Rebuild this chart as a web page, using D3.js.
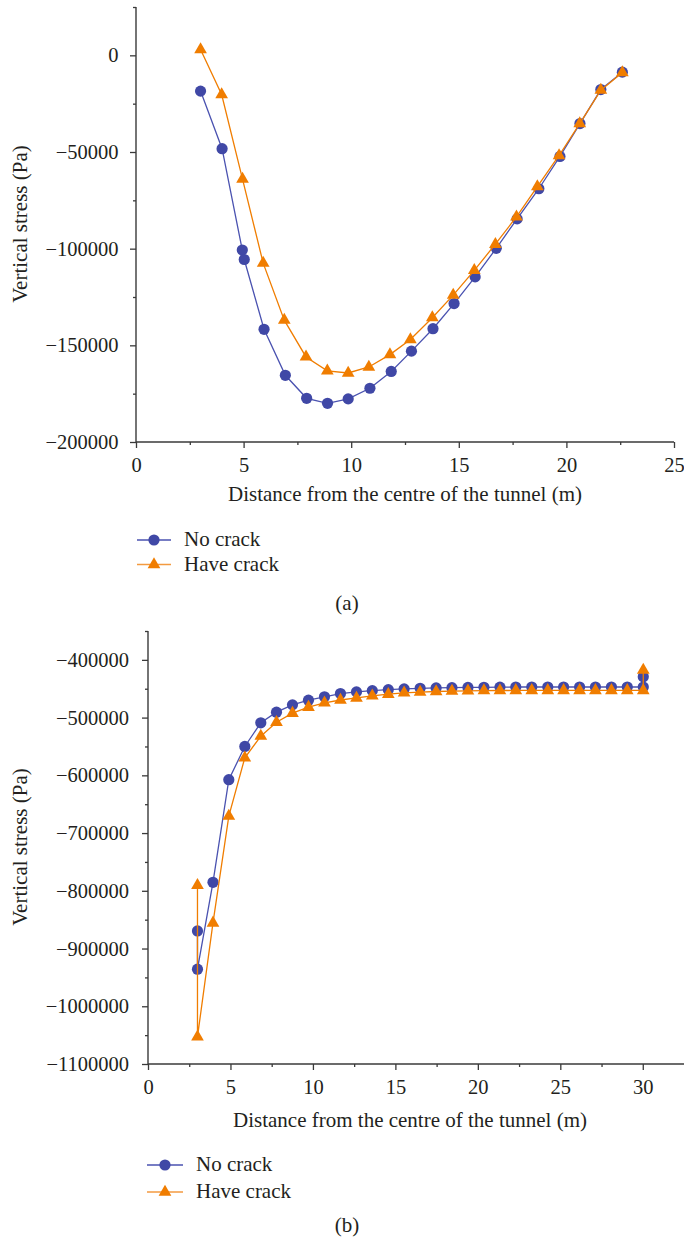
<!DOCTYPE html>
<html>
<head>
<meta charset="utf-8">
<script src="https://cdn.jsdelivr.net/npm/d3@7/dist/d3.min.js"></script>
<style>
  html, body { margin: 0; padding: 0; background: #fff; }
  svg { display: block; }
  text { font-family: "Liberation Serif", "Times New Roman", serif; fill: #231f20; }
</style>
</head>
<body>
<svg id="chart" width="684" height="1244"></svg>
<script>
// ---------- Data (a) ----------
const aNoCrackX = [3.0, 4.0, 4.94, 5.03, 5.95, 6.94, 7.93, 8.9, 9.86, 10.87, 11.86, 12.8, 13.8, 14.78, 15.76, 16.74, 17.71, 18.72, 19.7, 20.63, 21.6, 22.6];
const aNoCrackY = [-18500, -48300, -100700, -105600, -141700, -165500, -177400, -180000, -177700, -172200, -163500, -153000, -141400, -128400, -114600, -99800, -84600, -69000, -52300, -35300, -17700, -8700];
const aCrackX = [3.0, 3.98, 4.95, 5.91, 6.89, 7.9, 8.89, 9.86, 10.82, 11.8, 12.75, 13.77, 14.74, 15.72, 16.7, 17.68, 18.65, 19.66, 20.62, 21.6, 22.6];
const aCrackY = [3000, -20300, -64000, -107500, -137000, -156000, -163200, -164300, -161200, -154800, -147000, -135700, -124000, -111200, -97700, -83500, -67900, -51800, -35300, -18000, -8900];

// ---------- Data (b) ----------
const bX = [3, 3, 3.94, 4.9, 5.87, 6.84, 7.79, 8.76, 9.73, 10.7, 11.67, 12.64, 13.6, 14.57, 15.53, 16.5, 17.47, 18.43, 19.4, 20.37, 21.34, 22.3, 23.27, 24.24, 25.2, 26.17, 27.13, 28.1, 29.06, 30.03, 30.03];
const bNoCrackY = [-869500, -935800, -785300, -607600, -550000, -509000, -490600, -477900, -469900, -464000,
  -458300, -455500, -453300, -451500, -450200, -449300, -448600, -448100, -447800, -447500,
  -447200, -447000, -447000, -447000, -447000, -447000, -447000, -447000, -447000, -447000, -429300];
const bCrackY = [-790500, -1053000, -855700, -670600, -569600, -532200, -508000, -492400, -482000, -474400,
  -469500, -466000, -462500, -459500, -457300, -455800, -454800, -454000, -453600, -453300,
  -453100, -453000, -453000, -453000, -453000, -453000, -453000, -453000, -453000, -453000, -417500];

// ---------- Tick values ----------
const aXTicks = [0, 5, 10, 15, 20, 25];
const aXMinor = [2.5, 7.5, 12.5, 17.5, 22.5];
const aYTicks = [-200000, -150000, -100000, -50000, 0];
const aYMinor = [-175000, -125000, -75000, -25000, 25000];
const bXTicks = [0, 5, 10, 15, 20, 25, 30];
const bXMinor = [2.5, 7.5, 12.5, 17.5, 22.5, 27.5];
const bYTicks = [-1100000, -1000000, -900000, -800000, -700000, -600000, -500000, -400000];
const bYMinor = [-1050000, -950000, -850000, -750000, -650000, -550000, -450000, -350000];

const seriesNames = ["No crack", "Have crack"];
const xTitle = "Distance from the centre of the tunnel (m)";
const yTitle = "Vertical stress (Pa)";

const BLUE = "#4048a6";
const BLUE_LINE = "#4a52b0";
const ORANGE = "#f07d00";
const AXIS = "#3a3a3a";
const TICK_FS = 20.5;
const TITLE_FS = 21;

const svg = d3.select("#chart");
const fmt = d => d3.format("d")(d).replace("-", "\u2212");

function panel(cfg) {
  const g = svg.append("g");
  const x = d3.scaleLinear().domain(cfg.xDomain).range(cfg.xRange);
  const y = d3.scaleLinear().domain(cfg.yDomain).range(cfg.yRange);

  const xAxis = d3.axisBottom(x).tickValues(cfg.xTicks).tickSize(6).tickPadding(9.5).tickFormat(d3.format("d"));
  const xMinor = d3.axisBottom(x).tickValues(cfg.xMinor).tickSize(3).tickFormat("");
  const yAxis = d3.axisLeft(y).tickValues(cfg.yTicks).tickSize(6).tickPadding(cfg.yPad).tickFormat(fmt);
  const yMinor = d3.axisLeft(y).tickValues(cfg.yMinor).tickSize(3).tickFormat("");

  const gx = g.append("g").attr("transform", `translate(0,${cfg.yRange[0]})`).call(xAxis);
  g.append("g").attr("transform", `translate(0,${cfg.yRange[0]})`).call(xMinor).select(".domain").remove();
  const gy = g.append("g").attr("transform", `translate(${cfg.xRange[0]},0)`).call(yAxis);
  g.append("g").attr("transform", `translate(${cfg.xRange[0]},0)`).call(yMinor).select(".domain").remove();

  g.selectAll(".domain").attr("stroke", AXIS).attr("stroke-width", 1.4);
  g.selectAll(".tick line").attr("stroke", AXIS).attr("stroke-width", 1.3);
  g.selectAll(".tick text").attr("font-family", "Liberation Serif").attr("font-size", TICK_FS).attr("fill", "#231f20");
  gx.select(".domain").attr("d", `M${cfg.xRange[0]},0H${cfg.xRange[1]}`);
  gy.select(".domain").attr("d", `M0,${cfg.yRange[0]}V${cfg.yRange[1]}`);

  g.append("text").attr("x", cfg.xTitleX).attr("y", cfg.xTitleY).attr("text-anchor", "middle")
    .attr("font-size", TITLE_FS).text(xTitle);
  g.append("text").attr("transform", `translate(${cfg.yTitleX},${cfg.yTitleY}) rotate(-90)`)
    .attr("text-anchor", "middle").attr("font-size", TITLE_FS).text(yTitle);

  const line = d3.line().x(d => x(d[0])).y(d => y(d[1]));
  const blue = cfg.blueX.map((v, i) => [v, cfg.blueY[i]]);
  const orange = cfg.orangeX.map((v, i) => [v, cfg.orangeY[i]]);

  g.append("path").attr("d", line(blue)).attr("fill", "none").attr("stroke", BLUE_LINE).attr("stroke-width", 1.3);
  g.selectAll(".c").data(blue).enter().append("circle").attr("class", "c")
    .attr("cx", d => x(d[0])).attr("cy", d => y(d[1])).attr("r", 5.6).attr("fill", BLUE);
  g.append("path").attr("d", line(orange)).attr("fill", "none").attr("stroke", ORANGE).attr("stroke-width", 1.3);
  const tri = d3.symbol().type(d3.symbolTriangle).size(70);
  g.selectAll(".t").data(orange).enter().append("path").attr("class", "t")
    .attr("transform", d => `translate(${x(d[0])},${y(d[1])})`).attr("d", tri).attr("fill", ORANGE);

  const L = cfg.legend;
  [0, 1].forEach(i => {
    const ly = L.y + i * L.dy;
    g.append("line").attr("x1", L.x).attr("x2", L.x + L.w).attr("y1", ly).attr("y2", ly)
      .attr("stroke", i === 0 ? BLUE_LINE : "#f39a40").attr("stroke-width", 1.4);
    if (i === 0) {
      g.append("circle").attr("cx", L.x + L.w / 2).attr("cy", ly).attr("r", 5.6).attr("fill", BLUE);
    } else {
      g.append("path").attr("transform", `translate(${L.x + L.w / 2},${ly})`).attr("d", tri).attr("fill", ORANGE);
    }
    g.append("text").attr("x", L.tx).attr("y", ly + 6).attr("font-size", TITLE_FS).text(seriesNames[i]);
  });

  g.append("text").attr("x", cfg.capX).attr("y", cfg.capY).attr("text-anchor", "middle")
    .attr("font-size", TITLE_FS).text(cfg.caption);
}

panel({
  xDomain: [0, 25], xRange: [136, 674],
  yDomain: [-200000, 25000], yRange: [442, 7],
  xTicks: aXTicks, xMinor: aXMinor, yTicks: aYTicks, yMinor: aYMinor, yPad: 11.5,
  xTitleX: 405, xTitleY: 501, yTitleX: 27, yTitleY: 224,
  blueX: aNoCrackX, blueY: aNoCrackY, orangeX: aCrackX, orangeY: aCrackY,
  legend: { x: 137, y: 540, dy: 24.5, w: 34, tx: 184 },
  caption: "(a)", capX: 347, capY: 610
});

panel({
  xDomain: [0, 32.5], xRange: [148, 684],
  yDomain: [-1100000, -350000], yRange: [1064, 631],
  xTicks: bXTicks, xMinor: bXMinor, yTicks: bYTicks, yMinor: bYMinor, yPad: 13,
  xTitleX: 410, xTitleY: 1127, yTitleX: 27, yTitleY: 847,
  blueX: bX, blueY: bNoCrackY, orangeX: bX, orangeY: bCrackY,
  legend: { x: 147, y: 1165, dy: 27, w: 36, tx: 196 },
  caption: "(b)", capX: 347, capY: 1232
});
</script>
</body>
</html>
